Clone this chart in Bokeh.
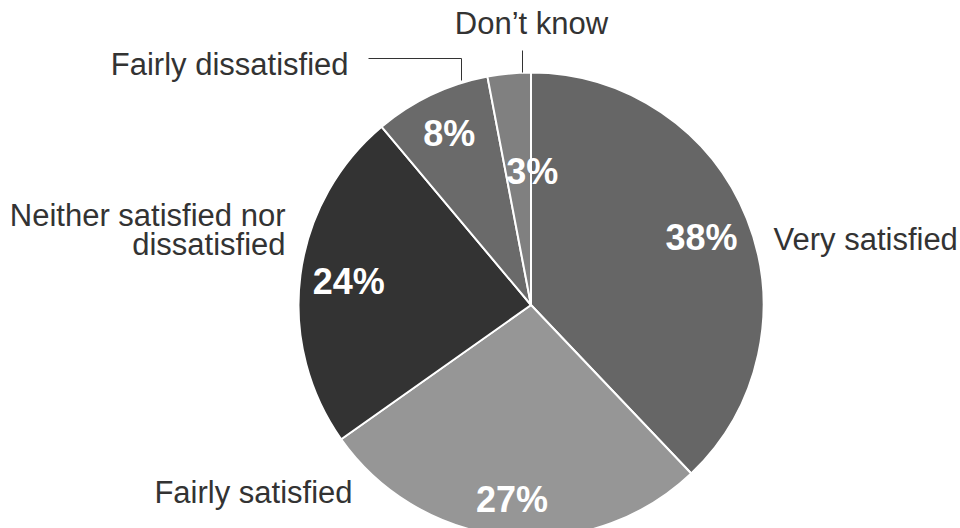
import math
from bokeh.plotting import figure
from bokeh.models import ColumnDataSource, Range1d
from bokeh.embed import file_html
from bokeh.resources import INLINE
from bokeh.core.properties import value

# ---------------- data ----------------
categories = ["Very satisfied", "Fairly satisfied",
              "Neither satisfied nor dissatisfied", "Fairly dissatisfied",
              "Don\u2019t know"]
shares = [37.9, 27.3, 23.7, 8.1, 3.0]
pct_labels = ["38%", "27%", "24%", "8%", "3%"]

# ---------------- style / layout ----------------
colors = ["#666666", "#969696", "#333333", "#6a6a6a", "#808080"]
W, H = 960, 528
CX, CY_SCREEN, R = 530.5, 304.5, 232.5
CY = H - CY_SCREEN
FONT = "Liberation Sans"
TEXT_COLOR = "#333333"
BASE_FIX = -11  # screen px correction for text baseline rendering

# percentage label radius factor and x nudge (px) per slice
pct_r = [0.79, 0.84, 0.79, 0.82, 0.58]
pct_dx = [0, 0, 0, 0, 14]

# outer category labels: display lines, anchor x, first baseline (screen y), align
outer = [
    (["Very satisfied"], 773, 250, "left"),
    (["Fairly satisfied"], 352, 503, "right"),
    (["Neither satisfied nor", "dissatisfied"], 285, 226, "right"),
    (["Fairly dissatisfied"], 348, 75, "right"),
    (["Don\u2019t know"], 531, 34, "center"),
]
LINE_STEP = 29
leaders = [
    [(368, 58), (461, 58), (461, 80)],
    [(522, 50), (522, 72)],
]

# ---------------- geometry ----------------
total = sum(shares)
starts, ends, mids = [], [], []
cum = 0.0
for s in shares:
    f0 = cum / total
    f1 = (cum + s) / total
    # clockwise from 12 o'clock
    starts.append(math.pi / 2 - 2 * math.pi * f1)
    ends.append(math.pi / 2 - 2 * math.pi * f0)
    mids.append(2 * math.pi * (f0 + f1) / 2)
    cum += s

src = ColumnDataSource(dict(cat=categories, share=shares, start=starts,
                            end=ends, color=colors))

p = figure(width=W, height=H, output_backend="svg", toolbar_location=None,
           x_axis_type=None, y_axis_type=None, min_border=0,
           x_range=Range1d(0, W), y_range=Range1d(0, H))
p.outline_line_color = None
p.background_fill_color = "white"
p.border_fill_color = "white"

p.wedge(x=CX, y=CY, radius=R, start_angle="start", end_angle="end",
        direction="anticlock", fill_color="color", line_color="white",
        line_width=2, source=src)

# percentage labels
px, py = [], []
for m, rf, dx in zip(mids, pct_r, pct_dx):
    px.append(CX + rf * R * math.sin(m) + dx)
    py.append(CY + rf * R * math.cos(m))
p.text(x=px, y=py, text=pct_labels, text_font=value(FONT),
       text_font_style="bold", text_font_size="36px", text_color="white",
       text_align="center", text_baseline="alphabetic",
       y_offset=12.5 + BASE_FIX - 1)

# outer labels
for lines, x, y, align in outer:
    for i, ln in enumerate(lines):
        p.text(x=[x], y=[H - (y + i * LINE_STEP)], text=[ln],
               text_font=value(FONT), text_font_size="31px",
               text_color=TEXT_COLOR, text_align=align,
               text_baseline="alphabetic", y_offset=BASE_FIX)

# leader lines
for pts in leaders:
    p.line(x=[a for a, b in pts], y=[H - b for a, b in pts],
           line_color=TEXT_COLOR, line_width=1)

open("out.html", "w").write(file_html(p, INLINE))
